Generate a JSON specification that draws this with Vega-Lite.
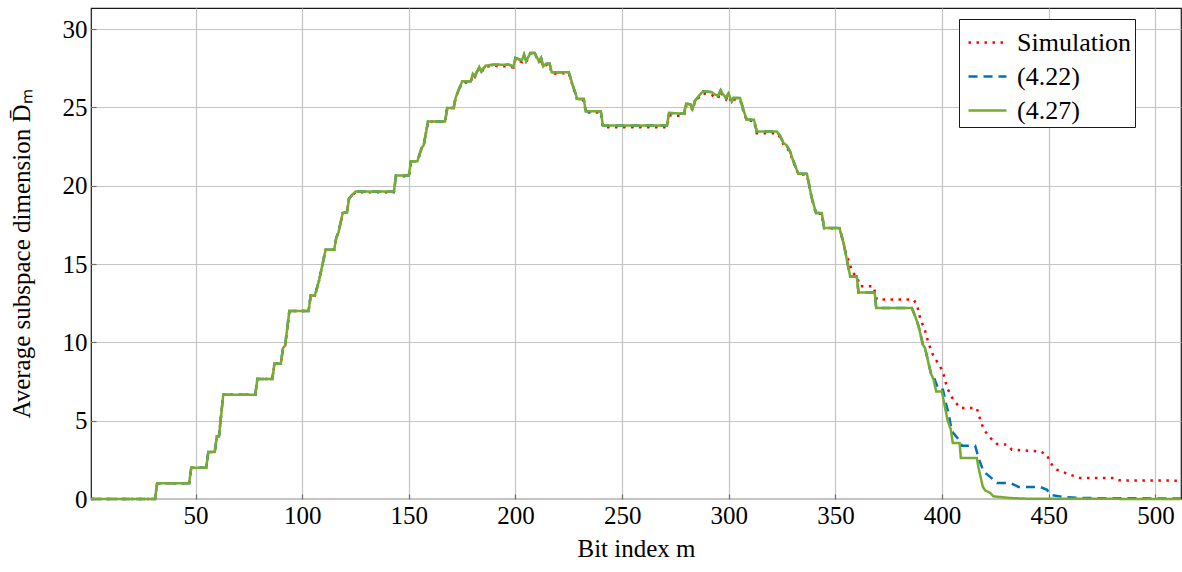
{
"$schema": "https://vega.github.io/schema/vega-lite/v6.json",
"width": 1090, "height": 491,
"autosize": {"type": "none"},
"padding": {"left": 91, "top": 8, "right": 1, "bottom": 73},
"background": "white",
"config": {
  "font": "Liberation Serif",
  "view": {"stroke": "#1a1a1a", "strokeWidth": 1.2},
  "axis": {"labelFont": "Liberation Serif", "titleFont": "Liberation Serif", "labelFontSize": 25, "titleFontSize": 25, "titleFontWeight": "normal", "labelColor": "#000", "titleColor": "#000", "gridColor": "#c4c4c4", "gridWidth": 1.2, "domain": false, "ticks": true, "tickSize": -5, "tickColor": "#6e6e6e", "tickWidth": 1.2},
  "legend": {"orient": "none", "legendX": 868, "legendY": 11, "strokeColor": "#1a1a1a", "fillColor": "#ffffff", "padding": 3, "symbolType": "stroke", "symbolSize": 1444, "symbolStrokeWidth": 2.5, "labelFont": "Liberation Serif", "labelFontSize": 26, "labelColor": "#000", "labelOffset": 9, "rowPadding": -7, "symbolOffset": 5}
},
"data": {"values": [
{"series":"Simulation","m":1,"D":0},{"series":"Simulation","m":31,"D":0},{"series":"Simulation","m":32,"D":1},{"series":"Simulation","m":47,"D":1},{"series":"Simulation","m":48,"D":2},{"series":"Simulation","m":55,"D":2},{"series":"Simulation","m":56,"D":3},{"series":"Simulation","m":59,"D":3},{"series":"Simulation","m":60,"D":4},{"series":"Simulation","m":61,"D":4},{"series":"Simulation","m":63,"D":6.66},{"series":"Simulation","m":78,"D":6.66},{"series":"Simulation","m":79,"D":7.66},{"series":"Simulation","m":86,"D":7.66},{"series":"Simulation","m":87,"D":8.64},{"series":"Simulation","m":90,"D":8.64},{"series":"Simulation","m":91,"D":9.64},{"series":"Simulation","m":92,"D":9.8},{"series":"Simulation","m":94,"D":12.0},{"series":"Simulation","m":103,"D":12.0},{"series":"Simulation","m":104,"D":13.0},{"series":"Simulation","m":106,"D":13.0},{"series":"Simulation","m":108,"D":14.0},{"series":"Simulation","m":111,"D":15.92},{"series":"Simulation","m":115,"D":15.92},{"series":"Simulation","m":116,"D":16.7},{"series":"Simulation","m":117,"D":17.0},{"series":"Simulation","m":119,"D":18.26},{"series":"Simulation","m":121,"D":18.3},{"series":"Simulation","m":122,"D":19.2},{"series":"Simulation","m":125,"D":19.58},{"series":"Simulation","m":143,"D":19.58},{"series":"Simulation","m":144,"D":20.6},{"series":"Simulation","m":150,"D":20.6},{"series":"Simulation","m":151,"D":21.56},{"series":"Simulation","m":154,"D":21.56},{"series":"Simulation","m":156,"D":22.41},{"series":"Simulation","m":157,"D":22.6},{"series":"Simulation","m":159,"D":24.11},{"series":"Simulation","m":167,"D":24.11},{"series":"Simulation","m":168,"D":24.97},{"series":"Simulation","m":171,"D":24.97},{"series":"Simulation","m":172,"D":25.65},{"series":"Simulation","m":175,"D":26.6},{"series":"Simulation","m":179,"D":26.6},{"series":"Simulation","m":180,"D":27.1},{"series":"Simulation","m":181,"D":26.95},{"series":"Simulation","m":183,"D":27.5},{"series":"Simulation","m":184,"D":27.25},{"series":"Simulation","m":186,"D":27.6},{"series":"Simulation","m":190,"D":27.66},{"series":"Simulation","m":197,"D":27.62},{"series":"Simulation","m":199,"D":27.55},{"series":"Simulation","m":200,"D":28.1},{"series":"Simulation","m":203,"D":27.9},{"series":"Simulation","m":204,"D":28.3},{"series":"Simulation","m":205,"D":27.9},{"series":"Simulation","m":207,"D":28.45},{"series":"Simulation","m":209,"D":28.45},{"series":"Simulation","m":211,"D":27.85},{"series":"Simulation","m":212,"D":28.1},{"series":"Simulation","m":213,"D":27.55},{"series":"Simulation","m":214.5,"D":27.72},{"series":"Simulation","m":216,"D":27.72},{"series":"Simulation","m":217,"D":27.15},{"series":"Simulation","m":225,"D":27.2},{"series":"Simulation","m":227,"D":26.3},{"series":"Simulation","m":229,"D":25.45},{"series":"Simulation","m":232,"D":25.45},{"series":"Simulation","m":233,"D":24.68},{"series":"Simulation","m":240,"D":24.68},{"series":"Simulation","m":241,"D":23.74},{"series":"Simulation","m":271,"D":23.74},{"series":"Simulation","m":272,"D":24.5},{"series":"Simulation","m":279,"D":24.45},{"series":"Simulation","m":280,"D":25.1},{"series":"Simulation","m":282,"D":25.1},{"series":"Simulation","m":283,"D":24.8},{"series":"Simulation","m":284,"D":25.3},{"series":"Simulation","m":286.5,"D":25.72},{"series":"Simulation","m":288,"D":25.9},{"series":"Simulation","m":292,"D":25.8},{"series":"Simulation","m":293.6,"D":25.6},{"series":"Simulation","m":295,"D":25.6},{"series":"Simulation","m":296.2,"D":26.0},{"series":"Simulation","m":297,"D":25.75},{"series":"Simulation","m":298.7,"D":25.5},{"series":"Simulation","m":299.8,"D":25.75},{"series":"Simulation","m":301.4,"D":25.3},{"series":"Simulation","m":302.2,"D":25.5},{"series":"Simulation","m":305.3,"D":25.5},{"series":"Simulation","m":306.8,"D":24.8},{"series":"Simulation","m":308.4,"D":24.15},{"series":"Simulation","m":311.8,"D":24.15},{"series":"Simulation","m":313.1,"D":23.35},{"series":"Simulation","m":322.5,"D":23.35},{"series":"Simulation","m":324,"D":23.1},{"series":"Simulation","m":325.6,"D":22.65},{"series":"Simulation","m":327,"D":22.5},{"series":"Simulation","m":328.7,"D":22.1},{"series":"Simulation","m":330.3,"D":21.5},{"series":"Simulation","m":332.6,"D":20.72},{"series":"Simulation","m":336.6,"D":20.72},{"series":"Simulation","m":338.9,"D":19.2},{"series":"Simulation","m":340.9,"D":18.22},{"series":"Simulation","m":343.6,"D":18.22},{"series":"Simulation","m":344.7,"D":17.28},{"series":"Simulation","m":351.9,"D":17.28},{"series":"Simulation","m":353.8,"D":16.35},{"series":"Simulation","m":355,"D":15.6},{"series":"Simulation","m":356,"D":15.28},{"series":"Simulation","m":358,"D":14.47},{"series":"Simulation","m":360,"D":14.21},{"series":"Simulation","m":361.6,"D":13.58},{"series":"Simulation","m":367.8,"D":13.58},{"series":"Simulation","m":369.4,"D":12.73},{"series":"Simulation","m":386.6,"D":12.73},{"series":"Simulation","m":388.2,"D":12.41},{"series":"Simulation","m":389.7,"D":11.56},{"series":"Simulation","m":392.1,"D":10.7},{"series":"Simulation","m":393.6,"D":9.96},{"series":"Simulation","m":396,"D":9.11},{"series":"Simulation","m":399.1,"D":8.47},{"series":"Simulation","m":400.7,"D":7.94},{"series":"Simulation","m":402.2,"D":7.19},{"series":"Simulation","m":403.8,"D":6.66},{"series":"Simulation","m":405.3,"D":6.34},{"series":"Simulation","m":408.5,"D":5.81},{"series":"Simulation","m":416.3,"D":5.81},{"series":"Simulation","m":417.1,"D":5.38},{"series":"Simulation","m":418.7,"D":4.74},{"series":"Simulation","m":420.2,"D":4.32},{"series":"Simulation","m":422.6,"D":3.9},{"series":"Simulation","m":425.7,"D":3.51},{"series":"Simulation","m":430.4,"D":3.47},{"series":"Simulation","m":432.7,"D":3.15},{"series":"Simulation","m":446,"D":3.04},{"series":"Simulation","m":449.2,"D":2.83},{"series":"Simulation","m":450.7,"D":2.3},{"series":"Simulation","m":453.8,"D":1.87},{"series":"Simulation","m":458.5,"D":1.62},{"series":"Simulation","m":464.8,"D":1.34},{"series":"Simulation","m":480.4,"D":1.34},{"series":"Simulation","m":482.7,"D":1.19},{"series":"Simulation","m":512,"D":1.17},
{"series":"(4.22)","m":1,"D":0},{"series":"(4.22)","m":31,"D":0},{"series":"(4.22)","m":32,"D":1},{"series":"(4.22)","m":47,"D":1},{"series":"(4.22)","m":48,"D":2},{"series":"(4.22)","m":55,"D":2},{"series":"(4.22)","m":56,"D":3},{"series":"(4.22)","m":59,"D":3},{"series":"(4.22)","m":60,"D":4},{"series":"(4.22)","m":61,"D":4},{"series":"(4.22)","m":63,"D":6.66},{"series":"(4.22)","m":78,"D":6.66},{"series":"(4.22)","m":79,"D":7.66},{"series":"(4.22)","m":86,"D":7.66},{"series":"(4.22)","m":87,"D":8.64},{"series":"(4.22)","m":90,"D":8.64},{"series":"(4.22)","m":91,"D":9.64},{"series":"(4.22)","m":92,"D":9.8},{"series":"(4.22)","m":94,"D":12.0},{"series":"(4.22)","m":103,"D":12.0},{"series":"(4.22)","m":104,"D":13.0},{"series":"(4.22)","m":106,"D":13.0},{"series":"(4.22)","m":108,"D":14.0},{"series":"(4.22)","m":111,"D":15.92},{"series":"(4.22)","m":115,"D":15.92},{"series":"(4.22)","m":116,"D":16.7},{"series":"(4.22)","m":117,"D":17.0},{"series":"(4.22)","m":119,"D":18.26},{"series":"(4.22)","m":121,"D":18.3},{"series":"(4.22)","m":122,"D":19.2},{"series":"(4.22)","m":125,"D":19.64},{"series":"(4.22)","m":143,"D":19.64},{"series":"(4.22)","m":144,"D":20.66},{"series":"(4.22)","m":150,"D":20.66},{"series":"(4.22)","m":151,"D":21.56},{"series":"(4.22)","m":154,"D":21.56},{"series":"(4.22)","m":156,"D":22.41},{"series":"(4.22)","m":157,"D":22.6},{"series":"(4.22)","m":159,"D":24.11},{"series":"(4.22)","m":167,"D":24.11},{"series":"(4.22)","m":168,"D":24.97},{"series":"(4.22)","m":171,"D":24.97},{"series":"(4.22)","m":172,"D":25.65},{"series":"(4.22)","m":175,"D":26.67},{"series":"(4.22)","m":179,"D":26.67},{"series":"(4.22)","m":180,"D":27.15},{"series":"(4.22)","m":181,"D":27.0},{"series":"(4.22)","m":183,"D":27.59},{"series":"(4.22)","m":184,"D":27.3},{"series":"(4.22)","m":186,"D":27.67},{"series":"(4.22)","m":190,"D":27.73},{"series":"(4.22)","m":197,"D":27.73},{"series":"(4.22)","m":199,"D":27.6},{"series":"(4.22)","m":200,"D":28.16},{"series":"(4.22)","m":203,"D":28.0},{"series":"(4.22)","m":204,"D":28.37},{"series":"(4.22)","m":205,"D":27.96},{"series":"(4.22)","m":207,"D":28.48},{"series":"(4.22)","m":209,"D":28.48},{"series":"(4.22)","m":211,"D":27.94},{"series":"(4.22)","m":212,"D":28.16},{"series":"(4.22)","m":213,"D":27.62},{"series":"(4.22)","m":214.5,"D":27.79},{"series":"(4.22)","m":216,"D":27.79},{"series":"(4.22)","m":217,"D":27.24},{"series":"(4.22)","m":225,"D":27.24},{"series":"(4.22)","m":227,"D":26.35},{"series":"(4.22)","m":229,"D":25.54},{"series":"(4.22)","m":232,"D":25.54},{"series":"(4.22)","m":233,"D":24.75},{"series":"(4.22)","m":240,"D":24.75},{"series":"(4.22)","m":241,"D":23.84},{"series":"(4.22)","m":271,"D":23.84},{"series":"(4.22)","m":272,"D":24.65},{"series":"(4.22)","m":279,"D":24.6},{"series":"(4.22)","m":280,"D":25.24},{"series":"(4.22)","m":282,"D":25.2},{"series":"(4.22)","m":283,"D":24.9},{"series":"(4.22)","m":284,"D":25.39},{"series":"(4.22)","m":286.5,"D":25.82},{"series":"(4.22)","m":288,"D":26.03},{"series":"(4.22)","m":292,"D":25.98},{"series":"(4.22)","m":293.6,"D":25.82},{"series":"(4.22)","m":295,"D":25.75},{"series":"(4.22)","m":296.2,"D":26.1},{"series":"(4.22)","m":297,"D":25.9},{"series":"(4.22)","m":298.7,"D":25.6},{"series":"(4.22)","m":299.8,"D":25.88},{"series":"(4.22)","m":301.4,"D":25.39},{"series":"(4.22)","m":302.2,"D":25.6},{"series":"(4.22)","m":305.3,"D":25.6},{"series":"(4.22)","m":306.8,"D":24.86},{"series":"(4.22)","m":308.4,"D":24.22},{"series":"(4.22)","m":311.8,"D":24.22},{"series":"(4.22)","m":313.1,"D":23.47},{"series":"(4.22)","m":322.5,"D":23.47},{"series":"(4.22)","m":324,"D":23.2},{"series":"(4.22)","m":325.6,"D":22.73},{"series":"(4.22)","m":327,"D":22.6},{"series":"(4.22)","m":328.7,"D":22.2},{"series":"(4.22)","m":330.3,"D":21.56},{"series":"(4.22)","m":332.6,"D":20.77},{"series":"(4.22)","m":336.6,"D":20.77},{"series":"(4.22)","m":338.9,"D":19.22},{"series":"(4.22)","m":340.9,"D":18.26},{"series":"(4.22)","m":343.6,"D":18.26},{"series":"(4.22)","m":344.7,"D":17.3},{"series":"(4.22)","m":351.9,"D":17.3},{"series":"(4.22)","m":353.8,"D":16.35},{"series":"(4.22)","m":356.9,"D":14.21},{"series":"(4.22)","m":360,"D":14.21},{"series":"(4.22)","m":360.8,"D":13.19},{"series":"(4.22)","m":368.4,"D":13.19},{"series":"(4.22)","m":369.1,"D":12.2},{"series":"(4.22)","m":385.8,"D":12.2},{"series":"(4.22)","m":387.4,"D":11.66},{"series":"(4.22)","m":389,"D":11.02},{"series":"(4.22)","m":391,"D":9.85},{"series":"(4.22)","m":392,"D":9.64},{"series":"(4.22)","m":394.7,"D":8.04},{"series":"(4.22)","m":396,"D":7.83},{"series":"(4.22)","m":398.3,"D":6.98},{"series":"(4.22)","m":400.4,"D":6.98},{"series":"(4.22)","m":402,"D":6.0},{"series":"(4.22)","m":403,"D":5.49},{"series":"(4.22)","m":404.6,"D":4.32},{"series":"(4.22)","m":408.5,"D":3.68},{"series":"(4.22)","m":409.3,"D":3.4},{"series":"(4.22)","m":415.5,"D":3.4},{"series":"(4.22)","m":417.1,"D":2.62},{"series":"(4.22)","m":419.4,"D":1.76},{"series":"(4.22)","m":424.1,"D":1.23},{"series":"(4.22)","m":425.7,"D":1.02},{"series":"(4.22)","m":432,"D":1.02},{"series":"(4.22)","m":435.8,"D":0.77},{"series":"(4.22)","m":446,"D":0.77},{"series":"(4.22)","m":449.2,"D":0.59},{"series":"(4.22)","m":450.7,"D":0.27},{"series":"(4.22)","m":456.9,"D":0.13},{"series":"(4.22)","m":464.8,"D":0.06},{"series":"(4.22)","m":512,"D":0.03},
{"series":"(4.27)","m":1,"D":0},{"series":"(4.27)","m":31,"D":0},{"series":"(4.27)","m":32,"D":1},{"series":"(4.27)","m":47,"D":1},{"series":"(4.27)","m":48,"D":2},{"series":"(4.27)","m":55,"D":2},{"series":"(4.27)","m":56,"D":3},{"series":"(4.27)","m":59,"D":3},{"series":"(4.27)","m":60,"D":4},{"series":"(4.27)","m":61,"D":4},{"series":"(4.27)","m":63,"D":6.66},{"series":"(4.27)","m":78,"D":6.66},{"series":"(4.27)","m":79,"D":7.66},{"series":"(4.27)","m":86,"D":7.66},{"series":"(4.27)","m":87,"D":8.64},{"series":"(4.27)","m":90,"D":8.64},{"series":"(4.27)","m":91,"D":9.64},{"series":"(4.27)","m":92,"D":9.8},{"series":"(4.27)","m":94,"D":12.0},{"series":"(4.27)","m":103,"D":12.0},{"series":"(4.27)","m":104,"D":13.0},{"series":"(4.27)","m":106,"D":13.0},{"series":"(4.27)","m":108,"D":14.0},{"series":"(4.27)","m":111,"D":15.92},{"series":"(4.27)","m":115,"D":15.92},{"series":"(4.27)","m":116,"D":16.7},{"series":"(4.27)","m":117,"D":17.0},{"series":"(4.27)","m":119,"D":18.26},{"series":"(4.27)","m":121,"D":18.3},{"series":"(4.27)","m":122,"D":19.2},{"series":"(4.27)","m":125,"D":19.64},{"series":"(4.27)","m":143,"D":19.64},{"series":"(4.27)","m":144,"D":20.66},{"series":"(4.27)","m":150,"D":20.66},{"series":"(4.27)","m":151,"D":21.56},{"series":"(4.27)","m":154,"D":21.56},{"series":"(4.27)","m":156,"D":22.41},{"series":"(4.27)","m":157,"D":22.6},{"series":"(4.27)","m":159,"D":24.11},{"series":"(4.27)","m":167,"D":24.11},{"series":"(4.27)","m":168,"D":24.97},{"series":"(4.27)","m":171,"D":24.97},{"series":"(4.27)","m":172,"D":25.65},{"series":"(4.27)","m":175,"D":26.67},{"series":"(4.27)","m":179,"D":26.67},{"series":"(4.27)","m":180,"D":27.15},{"series":"(4.27)","m":181,"D":27.0},{"series":"(4.27)","m":183,"D":27.59},{"series":"(4.27)","m":184,"D":27.3},{"series":"(4.27)","m":186,"D":27.67},{"series":"(4.27)","m":190,"D":27.73},{"series":"(4.27)","m":197,"D":27.73},{"series":"(4.27)","m":199,"D":27.6},{"series":"(4.27)","m":200,"D":28.16},{"series":"(4.27)","m":203,"D":28.0},{"series":"(4.27)","m":204,"D":28.37},{"series":"(4.27)","m":205,"D":27.96},{"series":"(4.27)","m":207,"D":28.48},{"series":"(4.27)","m":209,"D":28.48},{"series":"(4.27)","m":211,"D":27.94},{"series":"(4.27)","m":212,"D":28.16},{"series":"(4.27)","m":213,"D":27.62},{"series":"(4.27)","m":214.5,"D":27.79},{"series":"(4.27)","m":216,"D":27.79},{"series":"(4.27)","m":217,"D":27.24},{"series":"(4.27)","m":225,"D":27.24},{"series":"(4.27)","m":227,"D":26.35},{"series":"(4.27)","m":229,"D":25.54},{"series":"(4.27)","m":232,"D":25.54},{"series":"(4.27)","m":233,"D":24.75},{"series":"(4.27)","m":240,"D":24.75},{"series":"(4.27)","m":241,"D":23.84},{"series":"(4.27)","m":271,"D":23.84},{"series":"(4.27)","m":272,"D":24.65},{"series":"(4.27)","m":279,"D":24.6},{"series":"(4.27)","m":280,"D":25.24},{"series":"(4.27)","m":282,"D":25.2},{"series":"(4.27)","m":283,"D":24.9},{"series":"(4.27)","m":284,"D":25.39},{"series":"(4.27)","m":286.5,"D":25.82},{"series":"(4.27)","m":288,"D":26.03},{"series":"(4.27)","m":292,"D":25.98},{"series":"(4.27)","m":293.6,"D":25.82},{"series":"(4.27)","m":295,"D":25.75},{"series":"(4.27)","m":296.2,"D":26.1},{"series":"(4.27)","m":297,"D":25.9},{"series":"(4.27)","m":298.7,"D":25.6},{"series":"(4.27)","m":299.8,"D":25.88},{"series":"(4.27)","m":301.4,"D":25.39},{"series":"(4.27)","m":302.2,"D":25.6},{"series":"(4.27)","m":305.3,"D":25.6},{"series":"(4.27)","m":306.8,"D":24.86},{"series":"(4.27)","m":308.4,"D":24.22},{"series":"(4.27)","m":311.8,"D":24.22},{"series":"(4.27)","m":313.1,"D":23.47},{"series":"(4.27)","m":322.5,"D":23.47},{"series":"(4.27)","m":324,"D":23.2},{"series":"(4.27)","m":325.6,"D":22.73},{"series":"(4.27)","m":327,"D":22.6},{"series":"(4.27)","m":328.7,"D":22.2},{"series":"(4.27)","m":330.3,"D":21.56},{"series":"(4.27)","m":332.6,"D":20.77},{"series":"(4.27)","m":336.6,"D":20.77},{"series":"(4.27)","m":338.9,"D":19.22},{"series":"(4.27)","m":340.9,"D":18.26},{"series":"(4.27)","m":343.6,"D":18.26},{"series":"(4.27)","m":344.7,"D":17.3},{"series":"(4.27)","m":351.9,"D":17.3},{"series":"(4.27)","m":353.8,"D":16.35},{"series":"(4.27)","m":356.9,"D":14.21},{"series":"(4.27)","m":360,"D":14.21},{"series":"(4.27)","m":360.8,"D":13.19},{"series":"(4.27)","m":368.4,"D":13.19},{"series":"(4.27)","m":369.1,"D":12.2},{"series":"(4.27)","m":385.8,"D":12.2},{"series":"(4.27)","m":387.4,"D":11.66},{"series":"(4.27)","m":389,"D":11.02},{"series":"(4.27)","m":391,"D":9.85},{"series":"(4.27)","m":392,"D":9.64},{"series":"(4.27)","m":394.7,"D":8.04},{"series":"(4.27)","m":396,"D":7.62},{"series":"(4.27)","m":397.2,"D":6.87},{"series":"(4.27)","m":399.9,"D":6.87},{"series":"(4.27)","m":402.5,"D":5.06},{"series":"(4.27)","m":404.1,"D":4.43},{"series":"(4.27)","m":405,"D":3.58},{"series":"(4.27)","m":408.2,"D":3.58},{"series":"(4.27)","m":408.8,"D":2.62},{"series":"(4.27)","m":416.3,"D":2.62},{"series":"(4.27)","m":417.1,"D":1.98},{"series":"(4.27)","m":419.1,"D":0.77},{"series":"(4.27)","m":420.2,"D":0.55},{"series":"(4.27)","m":422.6,"D":0.38},{"series":"(4.27)","m":424.1,"D":0.17},{"series":"(4.27)","m":432,"D":0.06},{"series":"(4.27)","m":440,"D":0.02},{"series":"(4.27)","m":512,"D":0}
]},
"encoding": {
  "x": {"field": "m", "type": "quantitative", "scale": {"domain": [1, 512], "nice": false, "zero": false}, "axis": {"values": [50,100,150,200,250,300,350,400,450,500], "title": "Bit index m", "labelPadding": 9, "titlePadding": 8}},
  "y": {"field": "D", "type": "quantitative", "scale": {"domain": [0, 31.35], "nice": false}, "axis": {"values": [0,5,10,15,20,25,30], "title": "Average subspace dimension D̄ₘ", "labelPadding": 9, "titlePadding": 28}},
  "color": {"field": "series", "type": "nominal", "scale": {"domain": ["Simulation", "(4.22)", "(4.27)"], "range": ["#ff0000", "#0072bd", "#77ac30"]}, "legend": {"title": null}},
  "strokeDash": {"field": "series", "type": "nominal", "scale": {"domain": ["Simulation", "(4.22)", "(4.27)"], "range": [[2.5, 5.5], [9, 6], [1, 0]]}, "legend": {"title": null}}
},
"layer": [
  {"transform": [{"filter": "datum.series === 'Simulation'"}], "mark": {"type": "line", "strokeWidth": 2.5}},
  {"transform": [{"filter": "datum.series === '(4.22)'"}], "mark": {"type": "line", "strokeWidth": 2.5}},
  {"transform": [{"filter": "datum.series === '(4.27)'"}], "mark": {"type": "line", "strokeWidth": 2.5}}
]
}
